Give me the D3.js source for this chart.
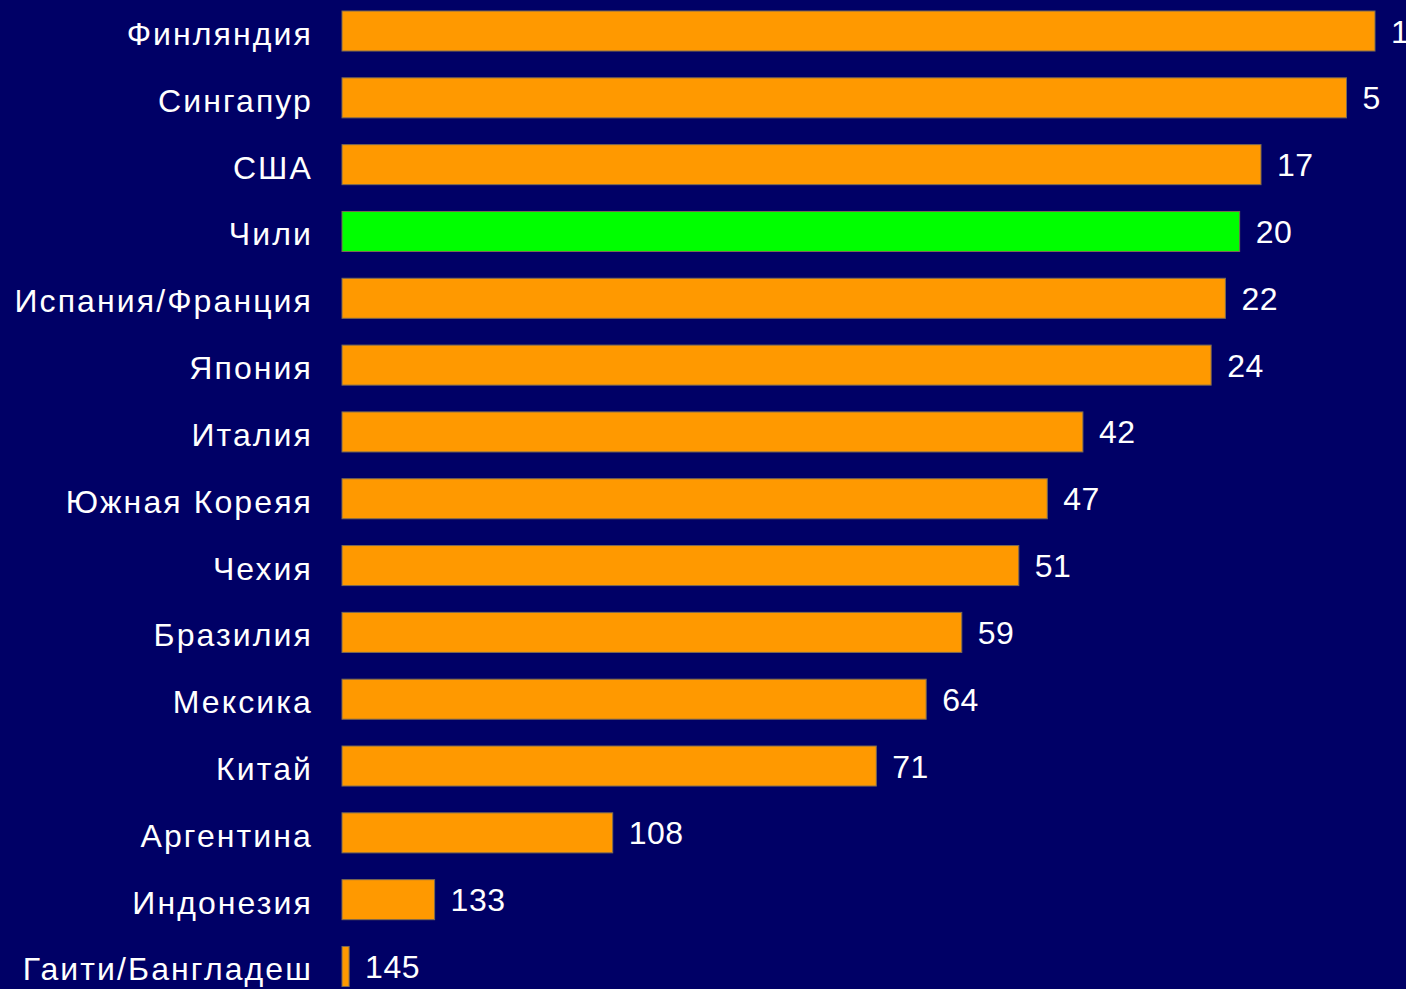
<!DOCTYPE html>
<html>
<head>
<meta charset="utf-8">
<script src="https://cdn.jsdelivr.net/npm/d3@7"></script>
<style>
  html, body { margin: 0; padding: 0; background: #000066; }
  svg { display: block; }
</style>
</head>
<body>
<div id="chart"></div>
<script>
// countries, top to bottom
const countries = ["Финляндия", "Сингапур", "США", "Чили", "Испания/Франция", "Япония",
  "Италия", "Южная Кореяя", "Чехия", "Бразилия", "Мексика", "Китай",
  "Аргентина", "Индонезия", "Гаити/Бангладеш"];
// ranking place (lower is better, longer bar)
const ranks = [1, 5, 17, 20, 22, 24, 42, 47, 51, 59, 64, 71, 108, 133, 145];
// which one gets highlighted
const highlight = "Чили";

const W = 1406, H = 989;
const left = 342, right = 1375;

const svg = d3.select("#chart").append("svg")
  .attr("width", W).attr("height", H);

svg.append("rect").attr("width", W).attr("height", H).attr("fill", "#000066");

// bar length shrinks as the rank number grows
const x = d3.scaleLinear().domain([146, 1]).range([0, right - left]);
const y = d3.scaleBand().domain(countries).range([11, 986.5]).paddingInner(0.401).paddingOuter(0);

const rows = svg.selectAll("g.row")
  .data(countries.map((c, i) => ({ name: c, rank: ranks[i] })))
  .enter().append("g").attr("class", "row");

rows.append("rect")
  .attr("x", left)
  .attr("y", d => y(d.name))
  .attr("width", d => x(d.rank))
  .attr("height", y.bandwidth())
  .attr("fill", d => d.name === highlight ? "#00ff00" : "#ff9900")
  .attr("stroke", "#7a6a55")
  .attr("stroke-width", 1);

// category labels, old-style wide spacing
rows.append("text")
  .attr("x", 313)
  .attr("y", d => y(d.name) + y.bandwidth() / 2 + 14)
  .attr("text-anchor", "end")
  .attr("fill", "#ffffff")
  .style("font-family", "Liberation Sans, Arial, sans-serif")
  .style("font-size", "32px")
  .style("letter-spacing", "2.1px")
  .text(d => d.name);

rows.append("text")
  .attr("x", d => left + x(d.rank) + 16)
  .attr("y", d => y(d.name) + y.bandwidth() / 2 + 11.5)
  .attr("fill", "#ffffff")
  .style("font-family", "Liberation Sans, Arial, sans-serif")
  .style("font-size", "32px")
  .style("letter-spacing", "0.5px")
  .text(d => d.rank);
</script>
</body>
</html>
